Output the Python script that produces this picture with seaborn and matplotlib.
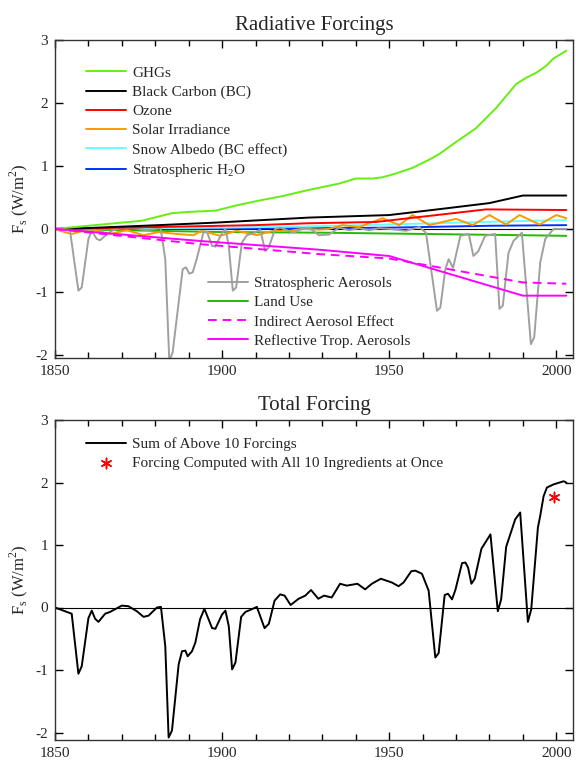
import numpy as np
import pandas as pd
import seaborn as sns
import matplotlib.pyplot as plt
from matplotlib.ticker import MultipleLocator

# ---- data (W/m^2) ----
ghg_yr = [1850, 1858, 1866, 1876, 1885, 1890, 1898, 1904, 1912, 1918, 1926, 1935, 1940, 1945,
          1948, 1952, 1957, 1962, 1965, 1970, 1976, 1982, 1988, 1991, 1994, 1997, 1999, 2003]
ghg_val = [0, 0.04, 0.08, 0.13, 0.25, 0.27, 0.29, 0.37, 0.46, 0.52, 0.62, 0.72, 0.8, 0.8,
           0.82, 0.88, 0.97, 1.1, 1.19, 1.38, 1.6, 1.92, 2.3, 2.4, 2.48, 2.59, 2.7, 2.83]

bc_yr = [1850, 1858, 1881, 1898, 1926, 1950, 1966, 1980, 1990, 2003]
bc_val = [0, 0.01, 0.06, 0.1, 0.18, 0.22, 0.32, 0.41, 0.53, 0.53]

o3_yr = [1850, 1880, 1910, 1926, 1946, 1979, 2003]
o3_val = [0, 0.03, 0.06, 0.09, 0.11, 0.31, 0.3]

sol_yr = [1850, 1851.5, 1855, 1860.5, 1866.5, 1871.5, 1876.5, 1881, 1886.4, 1891.4, 1894,
          1899.4, 1904.4, 1910.4, 1915.3, 1920, 1924, 1929, 1932, 1936, 1941, 1948, 1953,
          1957, 1962, 1970, 1975, 1980, 1985, 1989, 1995, 2000, 2003]
sol_val = [0, -0.03, -0.08, 0, -0.08, -0.02, -0.1, -0.05, -0.08, -0.1, -0.03,
           -0.11, -0.03, -0.1, -0.03, -0.03, 0, -0.01, 0, 0.06, 0.03, 0.17, 0.06,
           0.22, 0.06, 0.16, 0.06, 0.22, 0.07, 0.22, 0.07, 0.22, 0.17]

snow_yr = [1850, 1900, 1926, 1950, 1970, 2003]
snow_val = [0, 0.02, 0.04, 0.07, 0.1, 0.14]

h2o_yr = [1850, 1926, 1950, 1980, 2003]
h2o_val = [0, 0.01, 0.02, 0.05, 0.06]

land_yr = [1850, 1880, 1900, 1930, 1960, 1990, 2003]
land_val = [0, -0.03, -0.05, -0.06, -0.08, -0.1, -0.11]

ind_yr = [1850, 1893, 1929, 1950, 1990, 2003]
ind_val = [0, -0.24, -0.4, -0.47, -0.85, -0.87]

refl_yr = [1850, 1893, 1929, 1950, 1990, 2003]
refl_val = [0, -0.19, -0.33, -0.43, -1.06, -1.06]

sa_yr = [1850, 1852, 1854.5, 1857, 1858, 1860, 1861, 1862.5, 1863.5, 1865,
         1867, 1870, 1874, 1877, 1881.6, 1883, 1884.2, 1885.2, 1887, 1888.2,
         1889.2, 1890.2, 1891.2, 1892.4, 1894.4, 1895.5, 1897, 1898, 1900, 1901,
         1902, 1903.2, 1904.2, 1905.9, 1907.4, 1909.4, 1911.4, 1912.9, 1913.9, 1915.9,
         1917.4, 1921.4, 1924, 1926, 1929, 1932, 1935, 1938, 1941, 1944,
         1947, 1950, 1955, 1959, 1961, 1964.3, 1965.3, 1966.8, 1967.8, 1969.1,
         1971.3, 1973.8, 1975.2, 1976.7, 1978.7, 1981.7, 1983, 1984, 1985.7, 1987.2,
         1989.7, 1992.4, 1993.4, 1995.2, 1996.7, 1999.2, 2003]
sa_val = [0, 0, -0.03, -0.98, -0.93, -0.16, -0.03, -0.16, -0.18, -0.11,
          -0.03, 0.02, 0.01, -0.02, 0.01, -0.48, -2.1, -1.96, -1.17, -0.64,
          -0.61, -0.71, -0.69, -0.48, -0.06, -0.05, -0.27, -0.28, -0.06, 0,
          -0.27, -0.98, -0.93, -0.22, -0.1, -0.07, -0.01, -0.35, -0.3, 0,
          0.02, -0.06, 0, 0.02, -0.1, -0.09, 0.02, -0.02, 0.01, -0.02,
          0.01, 0, -0.03, 0.03, -0.06, -1.3, -1.25, -0.64, -0.48, -0.62,
          -0.11, -0.08, -0.43, -0.35, -0.11, -0.08, -1.27, -1.22, -0.38, -0.19,
          -0.06, -1.83, -1.72, -0.53, -0.16, 0, 0]

tot_yr = [1850, 1855, 1857, 1858, 1860, 1861, 1862, 1863, 1865, 1866.5,
          1870, 1872, 1874.5, 1876.5, 1878, 1880.5, 1881.7, 1883, 1884, 1885,
          1887, 1888, 1889, 1889.7, 1891, 1892, 1893.4, 1894.7, 1897, 1898,
          1900, 1901, 1902, 1903, 1904, 1905.7, 1907, 1908.4, 1910.4, 1912.7,
          1914, 1915.7, 1917.4, 1918.7, 1920.5, 1922.9, 1924.9, 1926.6, 1928.8, 1930.5,
          1932.8, 1935.3, 1937.3, 1940.5, 1942.8, 1944.8, 1947.5, 1950.8, 1952.8, 1954.3,
          1956.6, 1957.8, 1959.8, 1961.8, 1963.8, 1964.8, 1966.6, 1967.6, 1968.8, 1969.8,
          1971.8, 1972.8, 1973.6, 1974.6, 1975.6, 1977.6, 1980.3, 1982.5, 1983.5, 1985,
          1987.7, 1989.2, 1991.5, 1992.5, 1994.5, 1995.2, 1996.2, 1997.2, 1999.2, 2002.2,
          2003]
tot_val = [0, -0.1, -1.06, -0.94, -0.17, -0.05, -0.18, -0.23, -0.1, -0.07,
           0.03, 0.02, -0.06, -0.15, -0.13, 0.0, 0.01, -0.62, -2.08, -1.97,
           -0.91, -0.7, -0.69, -0.78, -0.7, -0.56, -0.19, -0.02, -0.33, -0.34,
           -0.11, -0.05, -0.3, -0.99, -0.88, -0.15, -0.07, -0.04, 0.01, -0.33,
           -0.26, 0.11, 0.21, 0.19, 0.04, 0.14, 0.19, 0.28, 0.14, 0.19,
           0.16, 0.38, 0.35, 0.38, 0.29, 0.38, 0.46, 0.4, 0.34, 0.4,
           0.58, 0.59, 0.54, 0.27, -0.8, -0.73, 0.2, 0.22, 0.13, 0.28,
           0.71, 0.72, 0.64, 0.38, 0.46, 0.94, 1.17, -0.06, 0.13, 0.97,
           1.41, 1.52, -0.23, -0.03, 1.28, 1.47, 1.78, 1.92, 1.97, 2.02,
           2.0]

all_yr = [1999.2]
all_val = [1.77]

# ---- style ----
sns.set_theme(style="ticks")
plt.rcParams['font.family'] = ['Liberation Serif', 'DejaVu Serif']
plt.rcParams['axes.unicode_minus'] = False

fig = plt.figure(figsize=(5.76, 7.62), dpi=100)
ax1 = fig.add_axes([55/576, 1 - 358/762, 518/576, 318/762])
ax2 = fig.add_axes([55/576, 1 - 740/762, 518/576, 320/762])

lw = 1.4
h2o_lab = 'Stratospheric H$_\\mathregular{2}$O'

# near-zero forcings first, then volcanoes, then the big ones on top
top_series = [
    (land_yr, land_val, '#22bb00', 'Land Use', '-'),
    (h2o_yr, h2o_val, '#0033ff', h2o_lab, '-'),
    (snow_yr, snow_val, '#66ffff', 'Snow Albedo (BC effect)', '-'),
    (sol_yr, sol_val, '#ff9900', 'Solar Irradiance', '-'),
    (sa_yr, sa_val, '#a0a0a0', 'Stratospheric Aerosols', '-'),
    (o3_yr, o3_val, '#ff0000', 'Ozone', '-'),
    (bc_yr, bc_val, '#000000', 'Black Carbon (BC)', '-'),
    (ghg_yr, ghg_val, '#66ee11', 'GHGs', '-'),
    (ind_yr, ind_val, '#ff00ff', 'Indirect Aerosol Effect', (0, (4.5, 3))),
    (refl_yr, refl_val, '#ff00ff', 'Reflective Trop. Aerosols', '-'),
]

ax1.axhline(0, color='black', lw=0.8, zorder=1)
for yr, val, col, lab, ls in top_series:
    sns.lineplot(x=yr, y=val, ax=ax1, color=col, lw=lw, linestyle=ls,
                 label=lab, estimator=None, sort=False)

handles, labels = ax1.get_legend_handles_labels()
hmap = dict(zip(labels, handles))
leg1_names = ['GHGs', 'Black Carbon (BC)', 'Ozone', 'Solar Irradiance',
              'Snow Albedo (BC effect)', h2o_lab]
leg2_names = ['Stratospheric Aerosols', 'Land Use', 'Indirect Aerosol Effect',
              'Reflective Trop. Aerosols']

leg_kw = dict(frameon=False, fontsize=11, handlelength=2.6, handletextpad=0.4,
              labelspacing=0.36, borderpad=0.2)
leg1 = ax1.legend([hmap[n] for n in leg1_names], leg1_names, loc='upper left',
                  bbox_to_anchor=(0.04, 0.952), **leg_kw)
ax1.add_artist(leg1)
ax1.legend([hmap[n] for n in leg2_names], leg2_names, loc='upper left',
           bbox_to_anchor=(0.275, 0.29), **leg_kw)

# bottom panel
ax2.axhline(0, color='black', lw=0.8, zorder=1)
sns.lineplot(x=tot_yr, y=tot_val, ax=ax2, color='black', lw=lw,
             label='Sum of Above 10 Forcings', estimator=None, sort=False)
sns.scatterplot(x=all_yr, y=all_val, ax=ax2, marker=(6, 2, 0), s=55,
                color='red', linewidth=1.1,
                label='Forcing Computed with All 10 Ingredients at Once')
ax2.legend(loc='upper left', bbox_to_anchor=(0.04, 0.98), **leg_kw)

for ax, title, ylo in [(ax1, 'Radiative Forcings', -2.05), (ax2, 'Total Forcing', -2.12)]:
    ax.set_xlim(1850, 2005)
    ax.set_ylim(ylo, 3)
    ax.set_xticks([1850, 1900, 1950, 2000])
    ax.xaxis.set_minor_locator(MultipleLocator(10))
    ax.set_yticks([-2, -1, 0, 1, 2, 3])
    ax.tick_params(which='both', direction='in', top=True, right=True,
                   labelsize=11, color='black', width=1)
    ax.tick_params(which='major', length=6, pad=5)
    ax.tick_params(which='minor', length=4)
    for s in ax.spines.values():
        s.set_color('#333333')
        s.set_linewidth(1)
    ax.set_title(title, fontsize=15, pad=7)
    ax.set_xlabel('')
    ax.set_ylabel('F$_\\mathregular{s}$ (W/m$^\\mathregular{2}$)', fontsize=12, labelpad=4)

fig.savefig('out.png', dpi=100)
